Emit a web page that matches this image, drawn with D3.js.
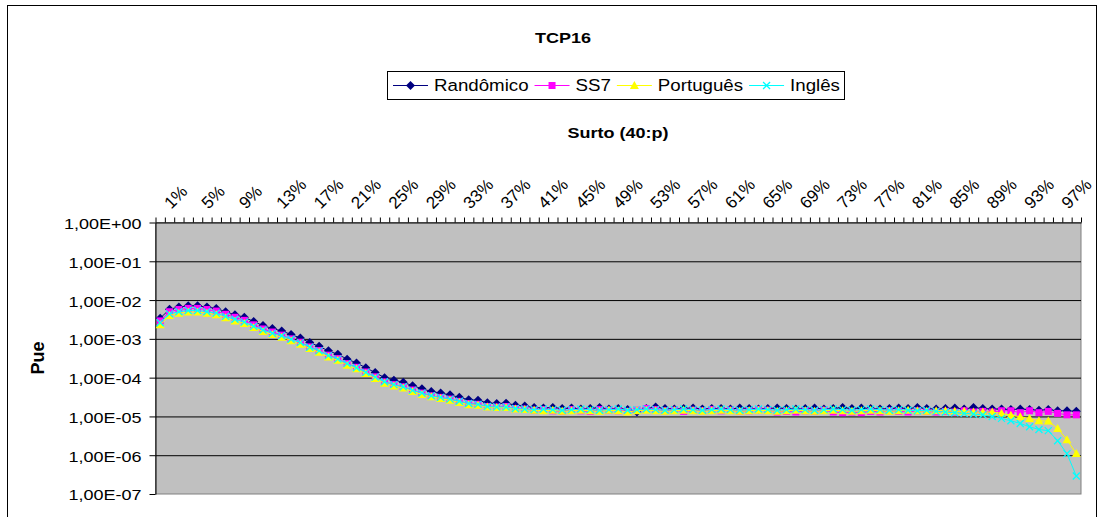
<!DOCTYPE html>
<html>
<head>
<meta charset="utf-8">
<script src="https://cdn.jsdelivr.net/npm/d3@7"></script>
<style>
  body { margin: 0; background: #fff; }
  svg { display: block; }
  text { font-family: Arial, "Liberation Sans", sans-serif; fill: #000; }
</style>
</head>
<body>
<svg id="chart" width="1100" height="517"></svg>
<script>
// Burst percentage categories 1% .. 99%
const categories = d3.range(1, 100).map(p => p + "%");

// Pue per burst percentage, one array per traffic source
const randomico = [
  3.4e-3, 5.8e-3, 6.6e-3, 7.1e-3, 7.1e-3, 6.6e-3, 6.1e-3, 5.0e-3, 4.2e-3, 3.6e-3,
  2.8e-3, 2.2e-3, 1.85e-3, 1.6e-3, 1.3e-3, 1.05e-3, 8.0e-4, 6.4e-4, 4.9e-4, 4.0e-4,
  3.0e-4, 2.4e-4, 1.8e-4, 1.35e-4, 1.0e-4, 8.6e-5, 7.6e-5, 6.2e-5, 5.2e-5, 4.4e-5,
  4.0e-5, 3.6e-5, 3.1e-5, 2.7e-5, 2.6e-5, 2.25e-5, 2.15e-5, 2.2e-5, 1.95e-5, 1.85e-5,
  1.7e-5, 1.65e-5, 1.7e-5, 1.6e-5, 1.65e-5, 1.55e-5, 1.6e-5, 1.7e-5, 1.55e-5, 1.6e-5,
  1.5e-5, 1.3e-5, 1.6e-5, 1.75e-5, 1.6e-5, 1.55e-5, 1.6e-5, 1.65e-5, 1.55e-5, 1.6e-5,
  1.6e-5, 1.55e-5, 1.65e-5, 1.6e-5, 1.55e-5, 1.6e-5, 1.65e-5, 1.6e-5, 1.55e-5, 1.6e-5,
  1.65e-5, 1.55e-5, 1.6e-5, 1.7e-5, 1.6e-5, 1.65e-5, 1.6e-5, 1.55e-5, 1.6e-5, 1.65e-5,
  1.6e-5, 1.7e-5, 1.6e-5, 1.55e-5, 1.6e-5, 1.65e-5, 1.55e-5, 1.7e-5, 1.6e-5, 1.55e-5,
  1.55e-5, 1.5e-5, 1.55e-5, 1.5e-5, 1.45e-5, 1.5e-5, 1.4e-5, 1.4e-5, 1.35e-5
];
const ss7 = [
  2.9e-3, 5.0e-3, 5.7e-3, 6.1e-3, 6.1e-3, 5.7e-3, 5.2e-3, 4.3e-3, 3.6e-3, 3.0e-3,
  2.3e-3, 1.8e-3, 1.5e-3, 1.25e-3, 1.0e-3, 8.2e-4, 6.2e-4, 5.0e-4, 3.8e-4, 3.1e-4,
  2.3e-4, 1.85e-4, 1.4e-4, 1.05e-4, 7.8e-5, 6.6e-5, 5.8e-5, 4.8e-5, 4.0e-5, 3.4e-5,
  3.1e-5, 2.8e-5, 2.45e-5, 2.15e-5, 2.05e-5, 1.8e-5, 1.75e-5, 1.8e-5, 1.6e-5, 1.55e-5,
  1.45e-5, 1.5e-5, 1.4e-5, 1.35e-5, 1.5e-5, 1.4e-5, 1.35e-5, 1.5e-5, 1.45e-5, 1.4e-5,
  1.35e-5, 1.45e-5, 1.6e-5, 1.5e-5, 1.4e-5, 1.45e-5, 1.35e-5, 1.45e-5, 1.4e-5, 1.5e-5,
  1.4e-5, 1.45e-5, 1.35e-5, 1.4e-5, 1.5e-5, 1.45e-5, 1.3e-5, 1.35e-5, 1.3e-5, 1.4e-5,
  1.35e-5, 1.45e-5, 1.3e-5, 1.25e-5, 1.3e-5, 1.25e-5, 1.35e-5, 1.3e-5, 1.4e-5, 1.35e-5,
  1.3e-5, 1.4e-5, 1.35e-5, 1.3e-5, 1.35e-5, 1.3e-5, 1.4e-5, 1.3e-5, 1.35e-5, 1.3e-5,
  1.4e-5, 1.4e-5, 1.25e-5, 1.4e-5, 1.25e-5, 1.35e-5, 1.2e-5, 1.1e-5, 1.1e-5
];
const portugues = [
  2.3e-3, 4.0e-3, 4.6e-3, 4.9e-3, 4.9e-3, 4.6e-3, 4.2e-3, 3.5e-3, 2.9e-3, 2.5e-3,
  1.95e-3, 1.55e-3, 1.3e-3, 1.1e-3, 9.0e-4, 7.3e-4, 5.6e-4, 4.5e-4, 3.4e-4, 2.8e-4,
  2.1e-4, 1.7e-4, 1.27e-4, 9.5e-5, 7.2e-5, 6.1e-5, 5.4e-5, 4.4e-5, 3.7e-5, 3.2e-5,
  2.9e-5, 2.6e-5, 2.3e-5, 2.0e-5, 1.95e-5, 1.75e-5, 1.7e-5, 1.7e-5, 1.55e-5, 1.5e-5,
  1.45e-5, 1.4e-5, 1.45e-5, 1.35e-5, 1.4e-5, 1.45e-5, 1.4e-5, 1.35e-5, 1.45e-5, 1.4e-5,
  1.3e-5, 1.4e-5, 1.45e-5, 1.4e-5, 1.35e-5, 1.4e-5, 1.45e-5, 1.4e-5, 1.35e-5, 1.4e-5,
  1.45e-5, 1.4e-5, 1.35e-5, 1.4e-5, 1.45e-5, 1.4e-5, 1.35e-5, 1.4e-5, 1.45e-5, 1.4e-5,
  1.35e-5, 1.4e-5, 1.45e-5, 1.4e-5, 1.35e-5, 1.4e-5, 1.45e-5, 1.4e-5, 1.35e-5, 1.4e-5,
  1.45e-5, 1.4e-5, 1.35e-5, 1.4e-5, 1.4e-5, 1.35e-5, 1.35e-5, 1.3e-5, 1.3e-5, 1.3e-5,
  1.2e-5, 1.07e-5, 9.8e-6, 8.9e-6, 7.7e-6, 7.6e-6, 4.9e-6, 2.5e-6, 1.1e-6
];
const ingles = [
  2.6e-3, 4.4e-3, 5.0e-3, 5.4e-3, 5.4e-3, 5.0e-3, 4.6e-3, 3.8e-3, 3.2e-3, 2.7e-3,
  2.1e-3, 1.7e-3, 1.4e-3, 1.2e-3, 9.8e-4, 8.0e-4, 6.1e-4, 4.9e-4, 3.7e-4, 3.0e-4,
  2.3e-4, 1.8e-4, 1.37e-4, 1.03e-4, 7.8e-5, 6.6e-5, 5.8e-5, 4.7e-5, 4.0e-5, 3.4e-5,
  3.1e-5, 2.8e-5, 2.45e-5, 2.15e-5, 2.05e-5, 1.8e-5, 1.75e-5, 1.75e-5, 1.6e-5, 1.55e-5,
  1.5e-5, 1.55e-5, 1.5e-5, 1.45e-5, 1.5e-5, 1.55e-5, 1.5e-5, 1.45e-5, 1.5e-5, 1.55e-5,
  1.45e-5, 1.5e-5, 1.55e-5, 1.5e-5, 1.45e-5, 1.5e-5, 1.55e-5, 1.5e-5, 1.45e-5, 1.5e-5,
  1.55e-5, 1.5e-5, 1.45e-5, 1.5e-5, 1.55e-5, 1.5e-5, 1.45e-5, 1.5e-5, 1.55e-5, 1.5e-5,
  1.45e-5, 1.5e-5, 1.55e-5, 1.5e-5, 1.45e-5, 1.5e-5, 1.55e-5, 1.5e-5, 1.45e-5, 1.5e-5,
  1.45e-5, 1.4e-5, 1.45e-5, 1.35e-5, 1.3e-5, 1.25e-5, 1.2e-5, 1.15e-5, 1.1e-5, 1.0e-5,
  8.9e-6, 7.7e-6, 6.6e-6, 5.4e-6, 4.6e-6, 4.3e-6, 2.35e-6, 1.1e-6, 2.9e-7
];

const seriesNames = ["Randômico", "SS7", "Português", "Inglês"];
const seriesColors = ["#000080", "#FF00FF", "#FFFF00", "#00FFFF"];
const yTickValues = [1, 1e-1, 1e-2, 1e-3, 1e-4, 1e-5, 1e-6, 1e-7];
const yTickLabels = ["1,00E+00", "1,00E-01", "1,00E-02", "1,00E-03", "1,00E-04", "1,00E-05", "1,00E-06", "1,00E-07"];
const chartTitle = "TCP16";
const xTitle = "Surto (40:p)";
const yTitle = "Pue";

const series = [randomico, ss7, portugues, ingles].map((values, k) => ({
  name: seriesNames[k], color: seriesColors[k], marker: k, values
}));

const svg = d3.select("#chart");
const plot = { left: 155.5, right: 1081, top: 222.5, bottom: 494 };
const stretch = 1.2; // horizontal text stretch of the page

const x = d3.scaleBand().domain(categories).range([plot.left, plot.right]);
const xEdge = d3.scaleLinear().domain([0, categories.length]).range([plot.left, plot.right]);
const y = d3.scaleLog().domain([1e-7, 1]).range([plot.bottom, plot.top]);
const cx = c => x(c) + x.bandwidth() / 2;

// outer chart frame
svg.append("rect")
  .attr("x", 7.5).attr("y", 5.5).attr("width", 1089).attr("height", 530)
  .attr("fill", "#fff").attr("stroke", "#000").attr("stroke-width", 1);

// plot area
svg.append("rect")
  .attr("x", plot.left).attr("y", plot.top)
  .attr("width", plot.right - plot.left).attr("height", plot.bottom - plot.top)
  .attr("fill", "#C0C0C0").attr("stroke", "#808080").attr("stroke-width", 1);

// horizontal gridlines
const grid = svg.append("g")
  .attr("transform", `translate(${plot.left},0)`)
  .call(d3.axisLeft(y).tickValues(yTickValues.slice(1, -1))
    .tickSize(-(plot.right - plot.left)).tickFormat(""));
grid.select(".domain").remove();
grid.selectAll("line").attr("stroke", "#000").attr("stroke-width", 1);

// y axis
const yAxis = svg.append("g")
  .attr("transform", `translate(${plot.left},0)`)
  .call(d3.axisLeft(y).tickValues(yTickValues).tickSize(6).tickSizeOuter(0)
    .tickFormat((d, i) => yTickLabels[i]));
yAxis.select(".domain").attr("stroke", "#000");
yAxis.selectAll("line").attr("stroke", "#000");
yAxis.selectAll("text")
  .attr("x", null).attr("dy", null)
  .attr("font-size", 15).attr("font-family", null)
  .attr("dominant-baseline", "central")
  .attr("text-anchor", "end")
  .attr("transform", `translate(-14,1) scale(${stretch},1)`);

// x axis along the top, ticks between categories
const xAxis = svg.append("g")
  .attr("transform", `translate(0,${plot.top})`)
  .call(d3.axisTop(xEdge).tickValues(d3.range(0, categories.length + 1))
    .tickSize(5).tickSizeOuter(0).tickFormat(""));
xAxis.select(".domain").attr("stroke", "#000");
xAxis.selectAll("line").attr("stroke", "#000");

// rotated category labels, every fourth
svg.append("g").selectAll("text")
  .data(categories.filter((c, i) => i % 4 === 0))
  .join("text")
  .attr("transform", c => `translate(${cx(c)},213) rotate(-45)`)
  .attr("x", 10)
  .attr("dominant-baseline", "central")
  .attr("font-size", 17)
  .text(c => c);

// marker shapes
function drawMarker(sel, kind, color) {
  if (kind === 0) {
    sel.append("path").attr("d", "M0,-4.5L4.5,0L0,4.5L-4.5,0Z").attr("fill", color);
  } else if (kind === 1) {
    sel.append("rect").attr("x", -3.5).attr("y", -3.5).attr("width", 7).attr("height", 7).attr("fill", color);
  } else if (kind === 2) {
    sel.append("path").attr("d", "M0,-4.5L4.5,3.5L-4.5,3.5Z").attr("fill", color);
  } else {
    sel.append("path").attr("d", "M-3.5,-3.5L3.5,3.5M-3.5,3.5L3.5,-3.5")
      .attr("stroke", color).attr("stroke-width", 1.3).attr("fill", "none");
  }
}

const line = d3.line().x((v, i) => cx(categories[i])).y(v => y(v));

const plotG = svg.append("g");
series.forEach(s => {
  const g = plotG.append("g");
  g.append("path").attr("d", line(s.values))
    .attr("fill", "none").attr("stroke", s.color).attr("stroke-width", 1);
  s.values.forEach((v, i) => {
    const m = g.append("g").attr("transform", `translate(${cx(categories[i])},${y(v)})`);
    drawMarker(m, s.marker, s.color);
  });
});

// titles
svg.append("text")
  .attr("transform", `translate(563,38) scale(${stretch},1)`)
  .attr("text-anchor", "middle").attr("dominant-baseline", "central")
  .attr("font-size", 15).attr("font-weight", "bold")
  .text(chartTitle);
svg.append("text")
  .attr("transform", `translate(618,133) scale(${stretch},1)`)
  .attr("text-anchor", "middle").attr("dominant-baseline", "central")
  .attr("font-size", 15).attr("font-weight", "bold")
  .text(xTitle);
svg.append("text")
  .attr("transform", `translate(38,358) rotate(-90)`)
  .attr("text-anchor", "middle").attr("dominant-baseline", "central")
  .attr("font-size", 18).attr("font-weight", "bold")
  .text(yTitle);

// legend
const legend = svg.append("g");
legend.append("rect")
  .attr("x", 387.5).attr("y", 71.5).attr("width", 457).attr("height", 28)
  .attr("fill", "#fff").attr("stroke", "#000").attr("stroke-width", 1);
const legendStretch = 1.1;
let lx = 393;
const ly = 85.5;
series.forEach(s => {
  const item = legend.append("g");
  item.append("line").attr("x1", lx).attr("x2", lx + 35).attr("y1", ly).attr("y2", ly)
    .attr("stroke", s.color).attr("stroke-width", 1);
  drawMarker(item.append("g").attr("transform", `translate(${lx + 17.5},${ly})`), s.marker, s.color);
  const t = item.append("text")
    .attr("transform", `translate(${lx + 41},${ly}) scale(${legendStretch},1)`)
    .attr("dominant-baseline", "central")
    .attr("font-size", 17)
    .text(s.name);
  lx = lx + 41 + t.node().getComputedTextLength() * legendStretch + 6;
});
</script>
</body>
</html>
